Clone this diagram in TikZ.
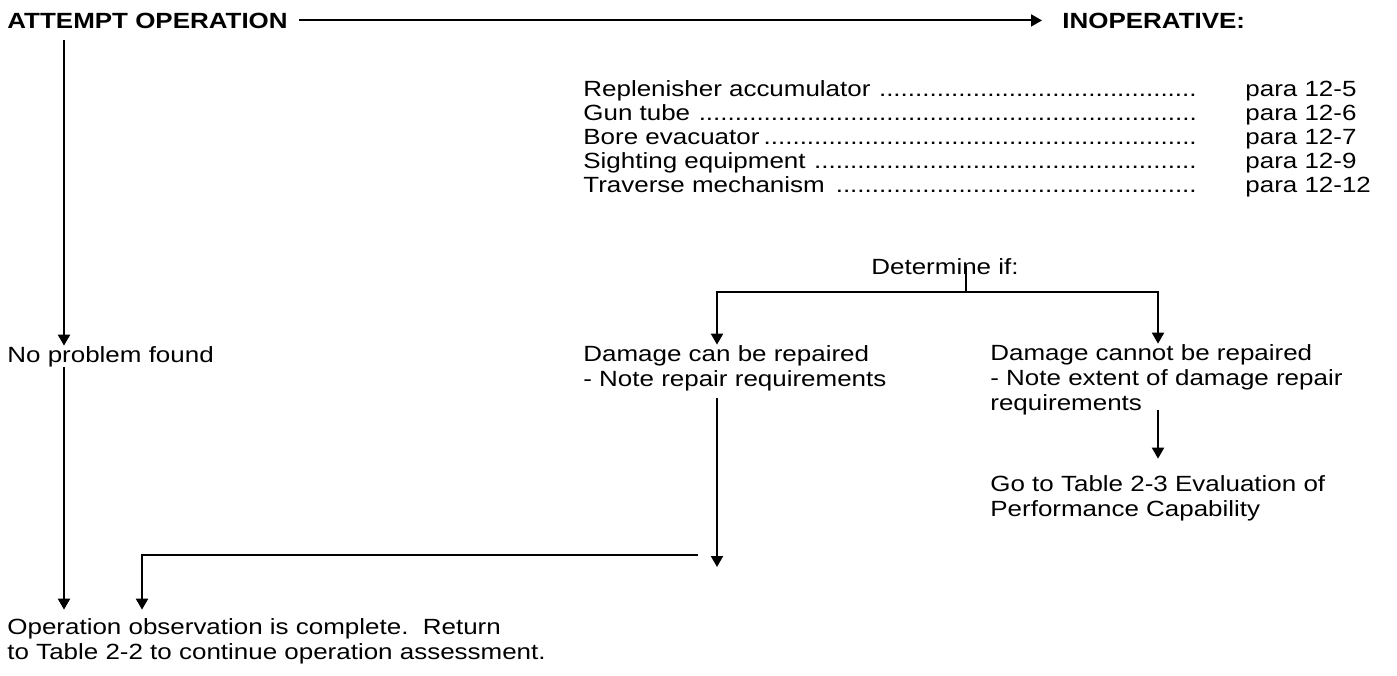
\documentclass[tikz,border=0pt]{standalone}
\usepackage{fontspec}
\setmainfont{Liberation Sans}[FakeStretch=1.18]
\usetikzlibrary{arrows.meta}

\newcommand\dotlead{\leaders\hbox{.}\hfill}

\begin{document}
\begin{tikzpicture}[x=0.5pt, y=-0.5pt,
  txt/.style={anchor=base west, inner sep=0pt, align=left, font=\fontsize{11}{12.5}\selectfont},
  boldtxt/.style={txt, font=\bfseries\fontsize{11}{12.5}\selectfont},
  rule/.style={line width=1pt},
  flow/.style={rule, -{Triangle[length=5.5pt,width=6pt]}}]
\useasboundingbox (0,0) rectangle (1397,675);
\node[boldtxt] (attempt) at (7,28) {ATTEMPT OPERATION};
\node[boldtxt] (inop) at (1062,28) {INOPERATIVE:};
\node[txt] (accum) at (583,96) {\makebox[308.5pt][l]{Replenisher accumulator \dotlead}};
\node[txt] (guntube) at (583,120) {\makebox[308.5pt][l]{Gun tube \dotlead}};
\node[txt] (boreevac) at (583,144) {\makebox[308.5pt][l]{Bore evacuator\dotlead}};
\node[txt] (sighting) at (583,168) {\makebox[308.5pt][l]{Sighting equipment \dotlead}};
\node[txt] (traverse) at (583,192) {\makebox[308.5pt][l]{Traverse mechanism \dotlead}};
\node[txt] (para5) at (1245,96) {para 12-5};
\node[txt] (para6) at (1245,120) {para 12-6};
\node[txt] (para7) at (1245,144) {para 12-7};
\node[txt] (para9) at (1245,168) {para 12-9};
\node[txt] (para12) at (1245,192) {para 12-12};
\node[txt] (determine) at (871,274) {Determine if:};
\node[txt] (noprob) at (7,362) {No problem found};
% multi-line nodes sit on the baseline of their last line
\node[txt] (repair) at (583,386) {Damage can be repaired\\- Note repair requirements};
\node[txt] (norepair) at (990,410) {Damage cannot be repaired\\- Note extent of damage repair\\requirements};
\node[txt] (gotable) at (990,516) {Go to Table 2-3 Evaluation of\\Performance Capability};
\node[txt] (done) at (7,659) {Operation observation is complete.\ \ Return\\to Table 2-2 to continue operation assessment.};

\coordinate (start) at (64,40);
\coordinate (fork) at (966,292);
\coordinate (lb) at (717,292);
\coordinate (rb) at (1158,292);
\coordinate (lt) at (717,567);
\coordinate (jr) at (698,555);
\coordinate (jl) at (142,555);

\draw[flow, shorten <=5.5pt, shorten >=10pt] (attempt) -- (inop);
\draw[flow] (start) -- (start |- noprob.north);
\draw[flow, shorten >=4pt] (start |- noprob.south) -- (start |- done.north);
\draw[rule] (fork |- determine.center) -- (fork);
\draw[flow] (fork) -| (lb |- repair.north);
\draw[flow] (fork) -| (rb |- norepair.north);
\draw[flow, shorten <=3.5pt] (lb |- repair.south) -- (lt);
\draw[flow, shorten >=8pt] (rb |- norepair.base) -- (rb |- gotable.north);
\draw[flow, shorten >=4pt] (jr) -| (jl |- done.north);
\end{tikzpicture}
\end{document}
